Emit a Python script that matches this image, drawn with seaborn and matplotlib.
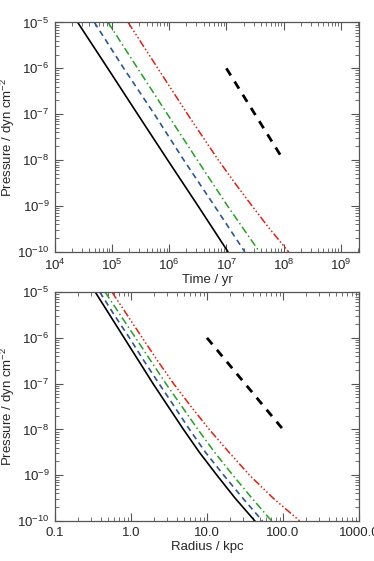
import numpy as np
import pandas as pd
import matplotlib
matplotlib.use("Agg")
import matplotlib.pyplot as plt
import seaborn as sns
from matplotlib.ticker import LogLocator, NullFormatter

# pressure levels at which the curves were read (dyn cm^-2)
pressure = [1e-5, 1e-6, 1e-7, 1e-8, 1e-9, 1e-10]
pressure_fine = [1e-5, 3.16e-6, 1e-6, 3.16e-7, 1e-7, 3.16e-8, 1e-8,
                 3.16e-9, 1e-9, 3.16e-10, 1e-10]

# top panel: time (yr)
time_black = [2.5e4, 8.4e4, 2.8e5, 9.4e5, 3.2e6, 1.07e7]
time_blue = [4.9e4, 1.6e5, 5.5e5, 1.8e6, 6.2e6, 2.1e7]
time_green = [8.5e4, 2.8e5, 9.3e5, 3.1e6, 1.05e7, 3.8e7]
time_red = [1.91e5, 3.47e5, 6.31e5, 1.15e6, 2.09e6, 3.89e6, 7.24e6,
            1.41e7, 2.82e7, 5.75e7, 1.23e8]

# bottom panel: radius (kpc)
rad_black = [0.339, 0.525, 0.813, 1.26, 1.95, 3.09, 4.90, 7.94, 13.5, 23.4, 42.7]
rad_blue = [0.389, 0.603, 0.955, 1.48, 2.34, 3.72, 5.89, 9.55, 16.6, 29.5, 53.7]
rad_green = [0.457, 0.724, 1.15, 1.82, 2.88, 4.68, 7.59, 12.6, 21.9, 38.9, 70.8]
rad_red = [0.562, 0.891, 1.41, 2.24, 3.63, 6.17, 10.7, 19.5, 36.3, 74.1, 166.0]

# slope reference segments
ref_time = [1e7, 1e8]
ref_rad = [10.0, 100.0]
ref_p = [1e-6, 1e-8]

sns.set_style("ticks")
plt.rcParams['font.family'] = ['Liberation Sans', 'DejaVu Sans']
plt.rcParams['mathtext.fontset'] = 'custom'
plt.rcParams['mathtext.rm'] = 'Liberation Sans'
plt.rcParams['mathtext.it'] = 'Liberation Sans'

fig = plt.figure(figsize=(3.74, 5.61), dpi=100)
ax1 = fig.add_axes([0.147, 0.551, 0.813, 0.409])
ax2 = fig.add_axes([0.147, 0.0713, 0.813, 0.408])

styles = [
    ('black', '-', 1.2),
    ('#2b5797', (0, (3.5, 2.5)), 1.2),
    ('#22a022', (0, (5, 2, 1, 2)), 1.1),
    ('#e02010', (0, (5, 1.5, 1, 1.5, 1, 1.5, 1, 1.5)), 1.1),
]


def draw(ax, xs, ref_x):
    for (c, ls, lw), x in zip(styles, xs):
        p = pressure_fine if len(x) == 11 else pressure
        df = pd.DataFrame({'x': x, 'p': p})
        sns.lineplot(data=df, x='x', y='p', ax=ax, color=c, linestyle=ls,
                     linewidth=lw, sort=False, estimator=None)
    sns.lineplot(x=ref_x, y=ref_p, ax=ax, color='black', linestyle=(0, (3.0, 2.6)),
                 linewidth=2.0, estimator=None)
    ax.set_xscale('log')
    ax.set_yscale('log')
    ax.set_ylim(1e-10, 1e-5)
    ax.set_yticks([1e-10, 1e-9, 1e-8, 1e-7, 1e-6, 1e-5])
    ax.set_yticklabels([r'10$^{-10}$', r'10$^{-9}$', r'10$^{-8}$', r'10$^{-7}$',
                        r'10$^{-6}$', r'10$^{-5}$'])
    ax.yaxis.set_minor_locator(LogLocator(base=10, subs=np.arange(2, 10)))
    ax.yaxis.set_minor_formatter(NullFormatter())
    ax.xaxis.set_minor_locator(LogLocator(base=10, subs=np.arange(2, 10), numticks=20))
    ax.xaxis.set_minor_formatter(NullFormatter())
    ax.tick_params(which='both', direction='in', top=True, right=True,
                   color='#555555', labelsize=9.5, pad=4)
    ax.tick_params(which='major', length=6, width=0.8)
    ax.tick_params(which='minor', length=3, width=0.6)
    for s in ax.spines.values():
        s.set_color('#555555')
        s.set_linewidth(0.9)
    ax.set_ylabel('Pressure / dyn cm$^{-2}$', fontsize=9.5)
    ax.yaxis.set_label_coords(-0.125, 0.5)


draw(ax1, [time_black, time_blue, time_green, time_red], ref_time)
ax1.set_xlim(1e4, 2.1e9)
ax1.set_xticks([1e4, 1e5, 1e6, 1e7, 1e8, 1e9])
ax1.set_xticklabels([r'10$^{4}$', r'10$^{5}$', r'10$^{6}$', r'10$^{7}$',
                     r'10$^{8}$', r'10$^{9}$'])
ax1.set_xlabel('Time / yr', fontsize=9.5, labelpad=1)

draw(ax2, [rad_black, rad_blue, rad_green, rad_red], ref_rad)
ax2.set_xlim(0.1, 1000)
ax2.set_xticks([0.1, 1, 10, 100, 1000])
ax2.set_xticklabels(['0.1', '1.0', '10.0', '100.0', '1000.0'])
ax2.set_xlabel('Radius / kpc', fontsize=9.5, labelpad=2)

fig.savefig('out.png', dpi=100)
